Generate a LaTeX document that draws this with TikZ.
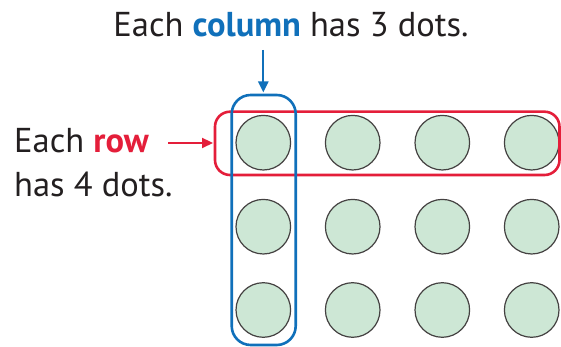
\documentclass[tikz,border=0pt]{standalone}
\usepackage{fontspec}
\setmainfont{PT Sans}
\usetikzlibrary{arrows.meta}
\definecolor{colblue}{RGB}{16,112,186}
\definecolor{rowred}{RGB}{228,30,58}
\definecolor{dotgreen}{RGB}{205,231,213}
\definecolor{ink}{RGB}{35,31,32}
\begin{document}
\begin{tikzpicture}[x=1pt,y=1pt,
  dot/.style={circle,draw=ink!85,line width=1.2pt,fill=dotgreen,minimum size=54.6pt,inner sep=0pt},
  label/.style={font=\fontsize{34.5}{40}\selectfont,text=ink,inner sep=0pt},
  grouprow/.style={draw=rowred,line width=2.6pt,rounded corners=15pt},
  groupcol/.style={draw=colblue,line width=2.6pt,rounded corners=19pt},
  tip/.style={-{Triangle[length=11pt,width=10pt]}}]
\useasboundingbox (0,0) rectangle (561,347);
% dot array: 3 rows x 4 columns
\foreach \c/\x in {1/263.3,2/352.7,3/442.3,4/531.7}{
  \foreach \r/\y in {1/204.3,2/120.3,3/37}{
    \node[dot] (d\r\c) at (\x,\y) {};
  }
}
% highlighted row and column
\draw[grouprow] (215,172) rectangle (559.5,235.3);
\draw[groupcol] (231.7,2) rectangle (295.7,252);
% labels
\node[label,anchor=base] (top) at (291,310) {Each \textbf{\textcolor{colblue}{column}} has 3 dots.};
\node[label,anchor=base west] (rowlbl) at (14,194.3) {Each \textbf{\textcolor{rowred}{row}}};
\node[label,anchor=base west] (rowlbl2) at (14,150.3) {has 4 dots.};
\coordinate (colin) at (263.3,297);
\coordinate (colend) at (263.3,254.5);
\coordinate (rowout) at (168,204);
\coordinate (rowend) at (213,204);
\draw[colblue,line width=2.2pt,tip] (colin) -- (colend);
\draw[rowred,line width=2.2pt,tip] (rowout) -- (rowend);
\end{tikzpicture}
\end{document}
